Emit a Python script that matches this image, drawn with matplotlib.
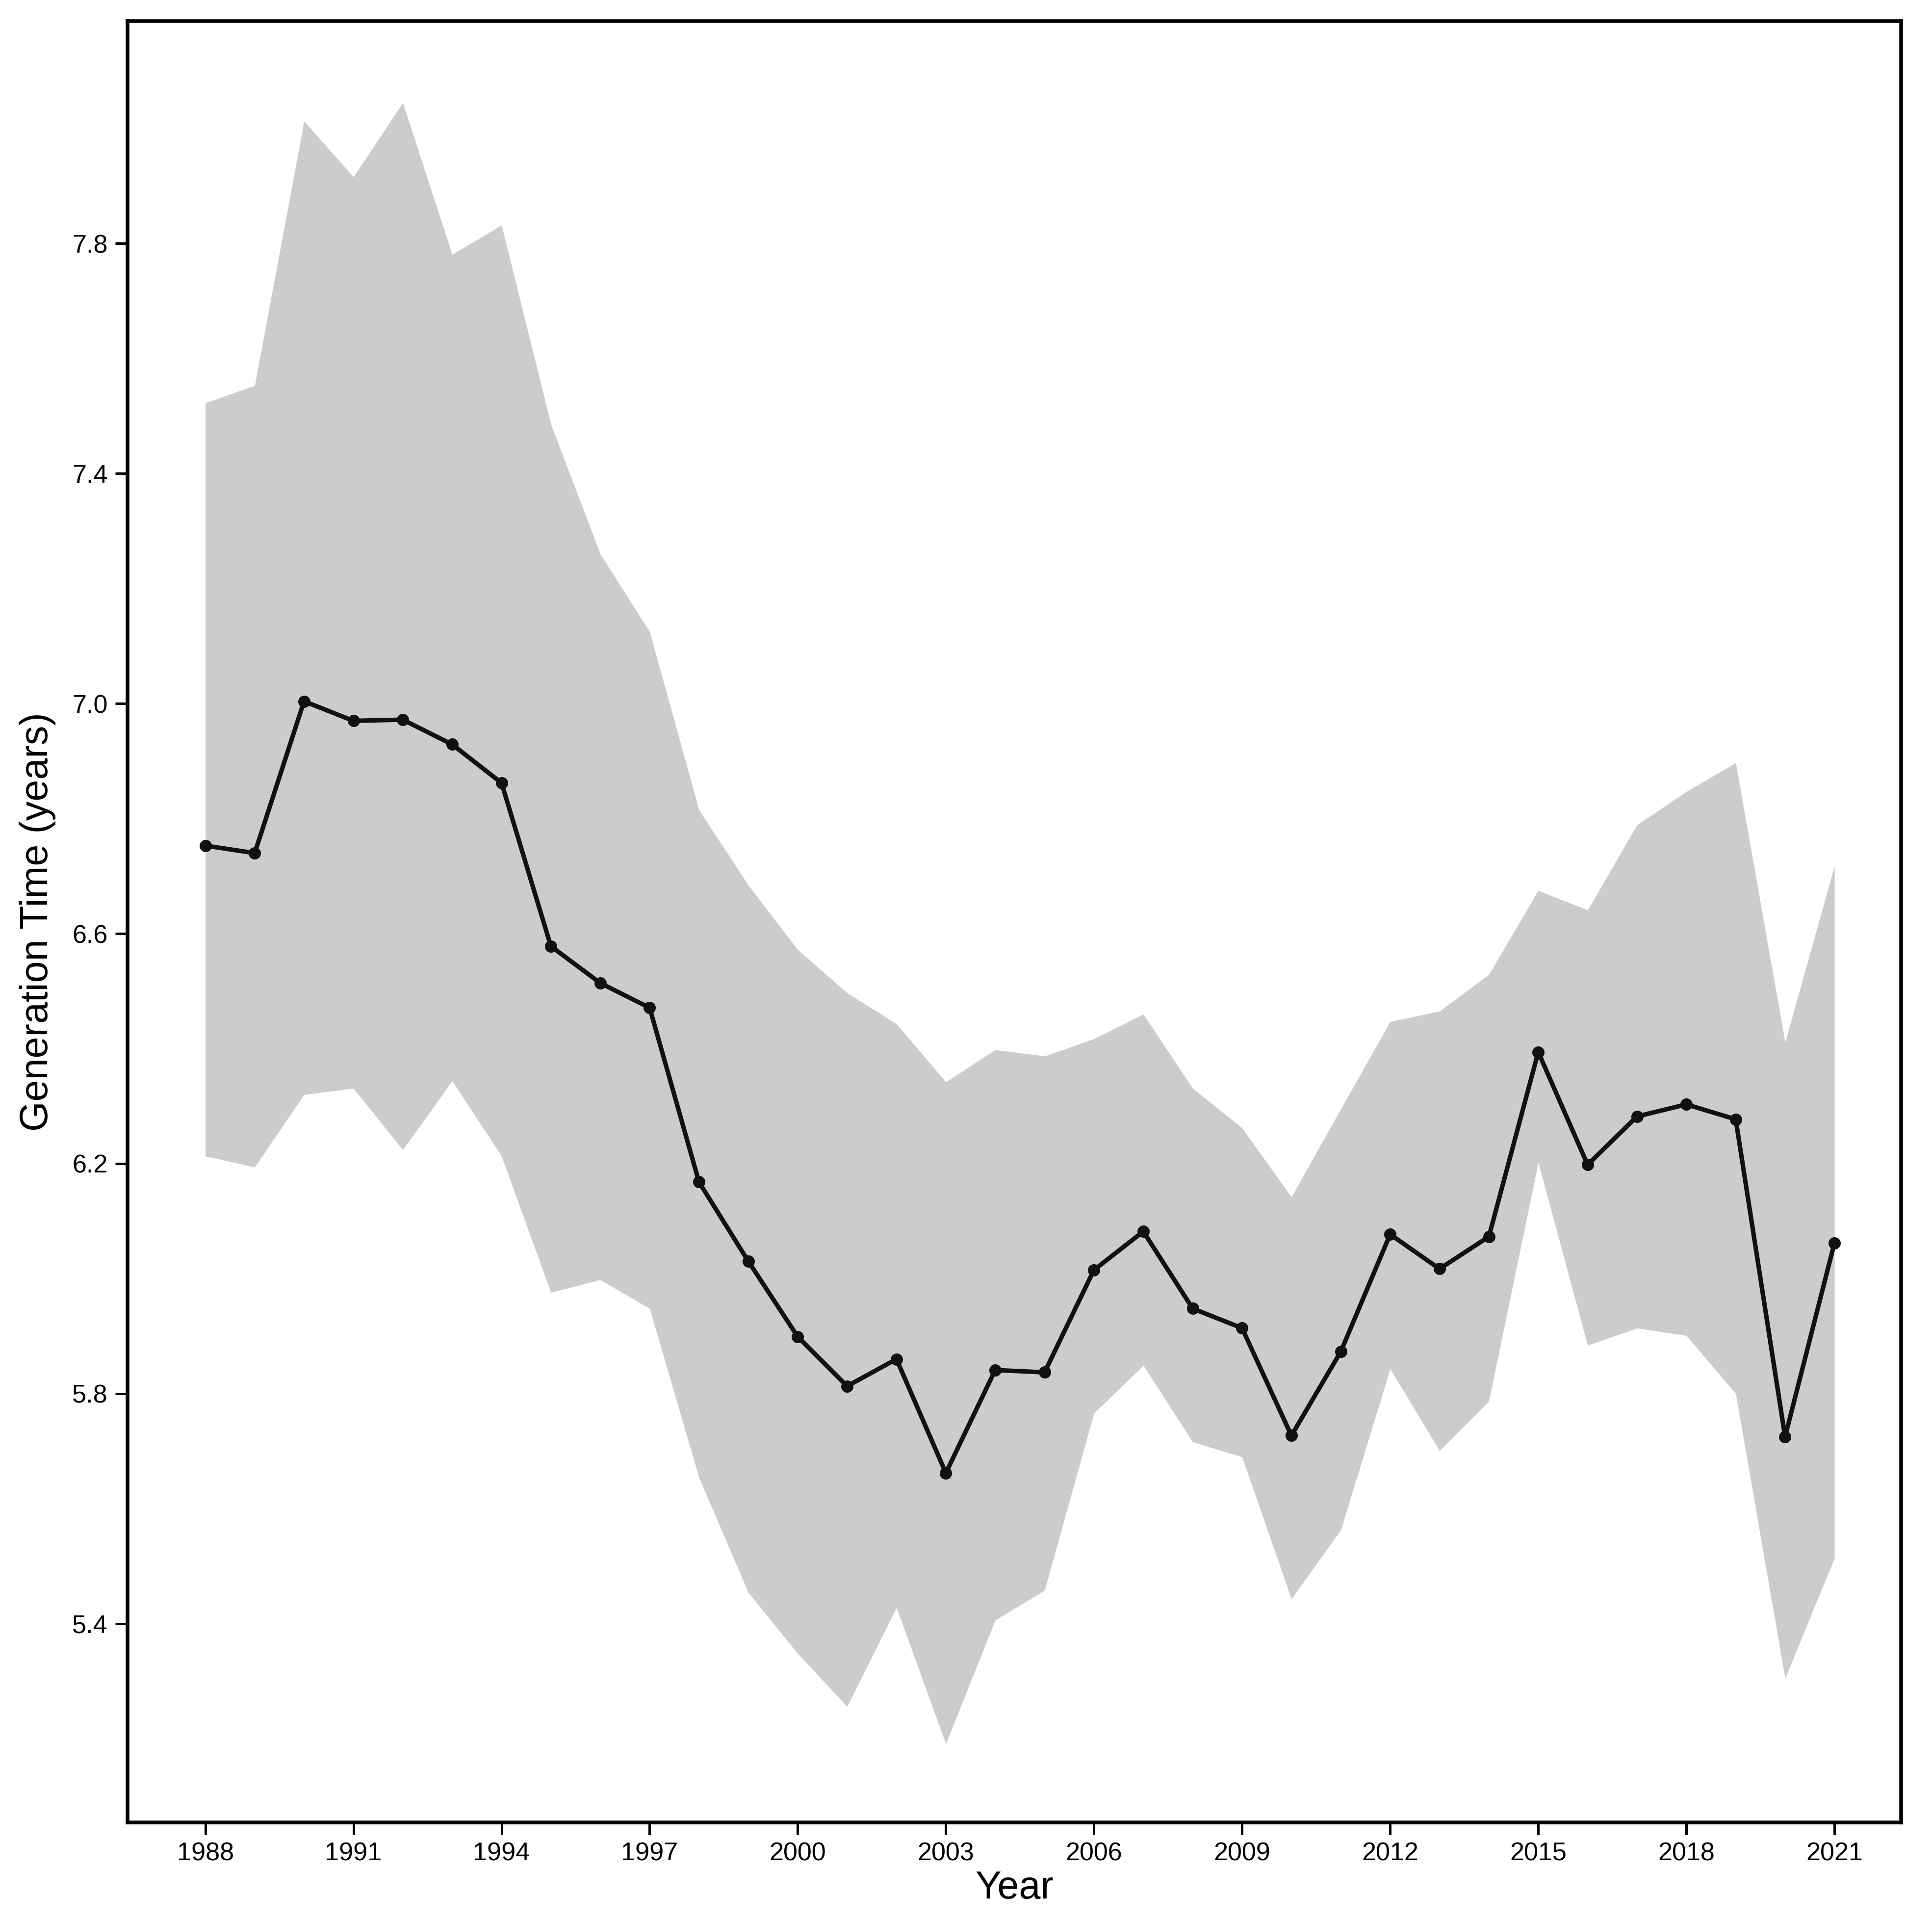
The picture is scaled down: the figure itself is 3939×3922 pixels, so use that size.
import numpy as np
import matplotlib
matplotlib.use("Agg")
import matplotlib.pyplot as plt

plt.rcParams["font.family"] = ["Liberation Sans", "DejaVu Sans"]

years = np.arange(1988, 2022)
gen_time = [6.753, 6.740, 7.004, 6.970, 6.972, 6.929, 6.862, 6.578, 6.514, 6.471,
            6.168, 6.030, 5.899, 5.813, 5.860, 5.662, 5.841, 5.837, 6.015, 6.082,
            5.948, 5.914, 5.727, 5.873, 6.077, 6.017, 6.073, 6.394, 6.198, 6.282,
            6.303, 6.277, 5.725, 6.062]
upper = [7.523, 7.553, 8.013, 7.916, 8.045, 7.781, 7.832, 7.486, 7.260, 7.125,
         6.815, 6.684, 6.572, 6.497, 6.443, 6.342, 6.398, 6.387, 6.417, 6.460,
         6.331, 6.262, 6.142, 6.295, 6.447, 6.465, 6.529, 6.675, 6.641, 6.789,
         6.847, 6.897, 6.411, 6.718]
lower = [6.213, 6.194, 6.320, 6.331, 6.224, 6.344, 6.213, 5.976, 5.998, 5.948,
         5.654, 5.454, 5.348, 5.256, 5.428, 5.191, 5.406, 5.458, 5.766, 5.849,
         5.716, 5.690, 5.443, 5.563, 5.843, 5.701, 5.787, 6.202, 5.884, 5.914,
         5.901, 5.800, 5.305, 5.514]

fig = plt.figure(figsize=(3939 / 300, 3922 / 300), dpi=300)
ax = fig.add_axes([103 / 1563, 1 - 1474 / 1556, (1538 - 103) / 1563, (1474 - 17) / 1556])
ax.fill_between(years, lower, upper, color="#cccccc", lw=0)
ax.plot(years, gen_time, color="#111111", lw=2.2, marker="o", ms=5)
ax.set_xlim(1986.42, 2022.35)
ax.set_ylim(5.054, 8.187)
ax.set_xticks(np.arange(1988, 2022, 3))
ax.set_yticks([5.4, 5.8, 6.2, 6.6, 7.0, 7.4, 7.8])
ax.yaxis.set_major_formatter(matplotlib.ticker.FormatStrFormatter("%.1f"))
for s in ax.spines.values():
    s.set_linewidth(1.8)
ax.tick_params(direction="out", length=6, width=1.2, labelsize=12.5)
ax.set_xlabel("Year", fontsize=19, labelpad=2)
ax.set_ylabel("Generation Time (years)", fontsize=19, labelpad=8)
fig.savefig("out.png", dpi=300)
